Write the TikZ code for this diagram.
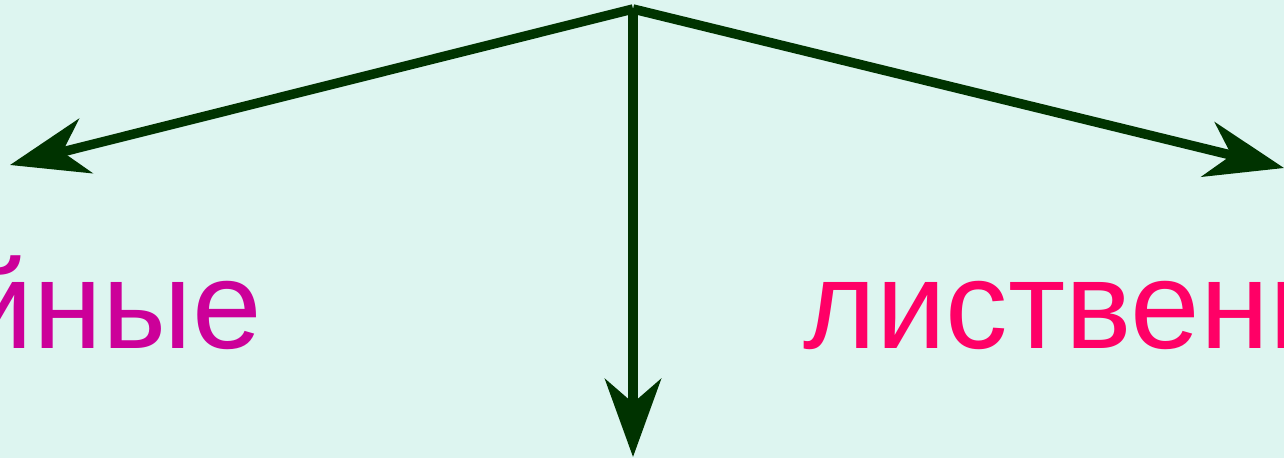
\documentclass[tikz,border=0pt]{standalone}
\usepackage{fontspec}
\setmainfont{Liberation Sans}
\usetikzlibrary{arrows.meta}
\definecolor{bg}{HTML}{DDF5F0}
\definecolor{arr}{HTML}{003300}
\definecolor{magA}{HTML}{CC0099}
\definecolor{magB}{HTML}{FF0066}
\tikzset{
  conn/.style={draw=arr, line width=9.5pt, -{Stealth[length=78pt,width=56pt,inset=24pt]}},
  lbl/.style={inner sep=0pt, font=\fontsize{125}{150}\selectfont}
}
\begin{document}
\begin{tikzpicture}[x=1pt,y=1pt]
\useasboundingbox (0,0) rectangle (1284,-458);
\fill[bg] (0,0) rectangle (1284,-458);
\clip (0,0) rectangle (1284,-458);
\coordinate (o) at (633,-9);
\coordinate (l) at (10,-165);
\coordinate (r) at (1284,-168);
\coordinate (d) at (633,-457);
\node[lbl, text=magA, anchor=base east] (t1) at (262,-348) {хвойные};
\node[lbl, text=magB, anchor=base west] (t2) at (803,-348) {лиственные};
\draw[conn] (o) -- (l);
\draw[conn] (o) -- (r);
\draw[conn] (o) -- (d);
\end{tikzpicture}
\end{document}
